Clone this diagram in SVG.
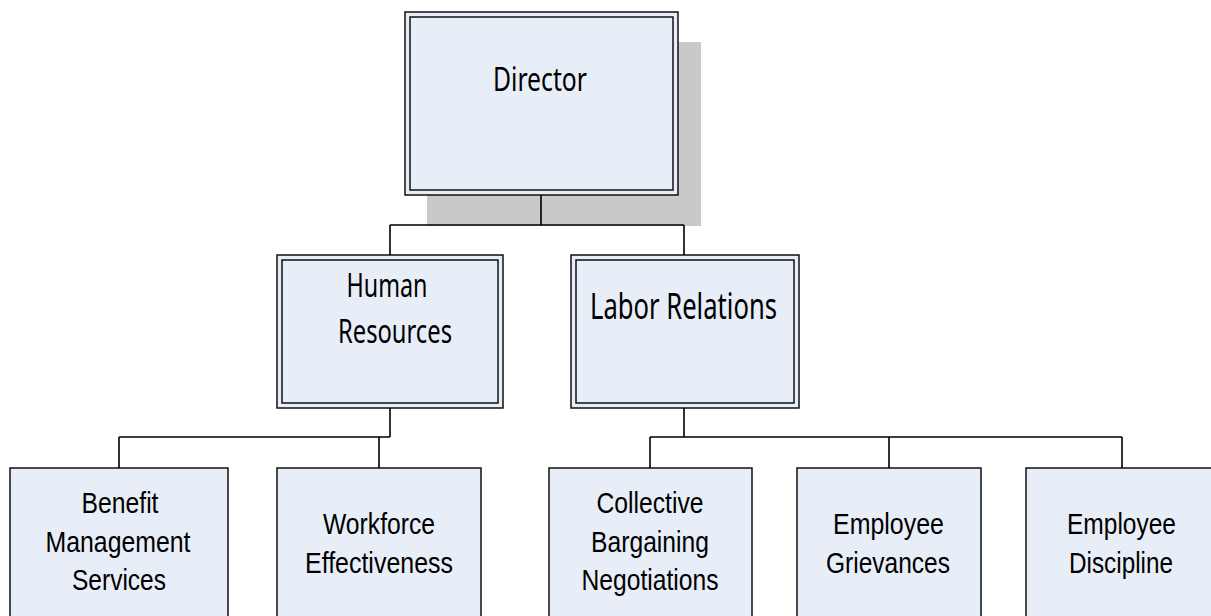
<svg xmlns="http://www.w3.org/2000/svg" width="1211" height="616" viewBox="0 0 1211 616">
<style>
.bx{fill:#e8eef8;stroke:#111;stroke-width:1.5}
.in{fill:none;stroke:#111;stroke-width:1.5}
.sh{fill:#c9c9c9}
.cn{fill:none;stroke:#000;stroke-width:1.6}
.t1{font-family:"Noto Sans","Liberation Sans",sans-serif;fill:#000;text-anchor:middle}
.t2{font-family:"Liberation Sans",Arial,sans-serif;font-size:30px;fill:#000;text-anchor:middle}
</style>
<rect width="1211" height="616" fill="#fff"/>
<g id="director">
<rect class="sh" x="427" y="42" width="274" height="184"/>
<rect class="bx" x="405" y="12" width="273" height="183"/>
<rect class="in" x="410" y="17" width="263" height="173"/>
<text class="t1" x="540" y="90.5" font-size="33.5" textLength="94" lengthAdjust="spacingAndGlyphs">Director</text>
</g>
<g id="human-resources">
<rect class="bx" x="277" y="255" width="226" height="153"/>
<rect class="in" x="282" y="260" width="216" height="143"/>
<text class="t1" x="387" y="297" font-size="32" textLength="81" lengthAdjust="spacingAndGlyphs">Human</text>
<text class="t1" x="395" y="343" font-size="32" textLength="114" lengthAdjust="spacingAndGlyphs">Resources</text>
</g>
<g id="labor-relations">
<rect class="bx" x="571" y="255" width="228" height="153"/>
<rect class="in" x="576" y="260" width="218" height="143"/>
<text class="t1" x="683.5" y="319" font-size="36" textLength="187" lengthAdjust="spacingAndGlyphs">Labor Relations</text>
</g>
<g id="benefit">
<rect class="bx" x="10" y="468" width="218" height="160"/>
<text class="t2" x="120" y="513" textLength="77" lengthAdjust="spacingAndGlyphs">Benefit</text>
<text class="t2" x="118" y="552" textLength="145" lengthAdjust="spacingAndGlyphs">Management</text>
<text class="t2" x="119" y="590" textLength="94" lengthAdjust="spacingAndGlyphs">Services</text>
</g>
<g id="workforce">
<rect class="bx" x="277" y="468" width="204" height="160"/>
<text class="t2" x="379" y="534" textLength="112" lengthAdjust="spacingAndGlyphs">Workforce</text>
<text class="t2" x="379" y="573" textLength="148" lengthAdjust="spacingAndGlyphs">Effectiveness</text>
</g>
<g id="collective">
<rect class="bx" x="549" y="468" width="203" height="160"/>
<text class="t2" x="650" y="513" textLength="107" lengthAdjust="spacingAndGlyphs">Collective</text>
<text class="t2" x="650" y="552" textLength="118" lengthAdjust="spacingAndGlyphs">Bargaining</text>
<text class="t2" x="650" y="590" textLength="137" lengthAdjust="spacingAndGlyphs">Negotiations</text>
</g>
<g id="grievances">
<rect class="bx" x="797" y="468" width="184" height="160"/>
<text class="t2" x="888.5" y="534" textLength="111" lengthAdjust="spacingAndGlyphs">Employee</text>
<text class="t2" x="888" y="573" textLength="124" lengthAdjust="spacingAndGlyphs">Grievances</text>
</g>
<g id="discipline">
<rect class="bx" x="1026" y="468" width="194" height="160"/>
<text class="t2" x="1121.5" y="534" textLength="109" lengthAdjust="spacingAndGlyphs">Employee</text>
<text class="t2" x="1121" y="573" textLength="104" lengthAdjust="spacingAndGlyphs">Discipline</text>
</g>
<g id="connectors">
<path class="cn" d="M541 195V225M390 225H684M390 225V255M684 225V255"/>
<path class="cn" d="M390 408V437M119 437H390M119 437V468M379 437V468"/>
<path class="cn" d="M684 408V437M650 437H1122M650 437V468M889 437V468M1122 437V468"/>
</g>
</svg>
